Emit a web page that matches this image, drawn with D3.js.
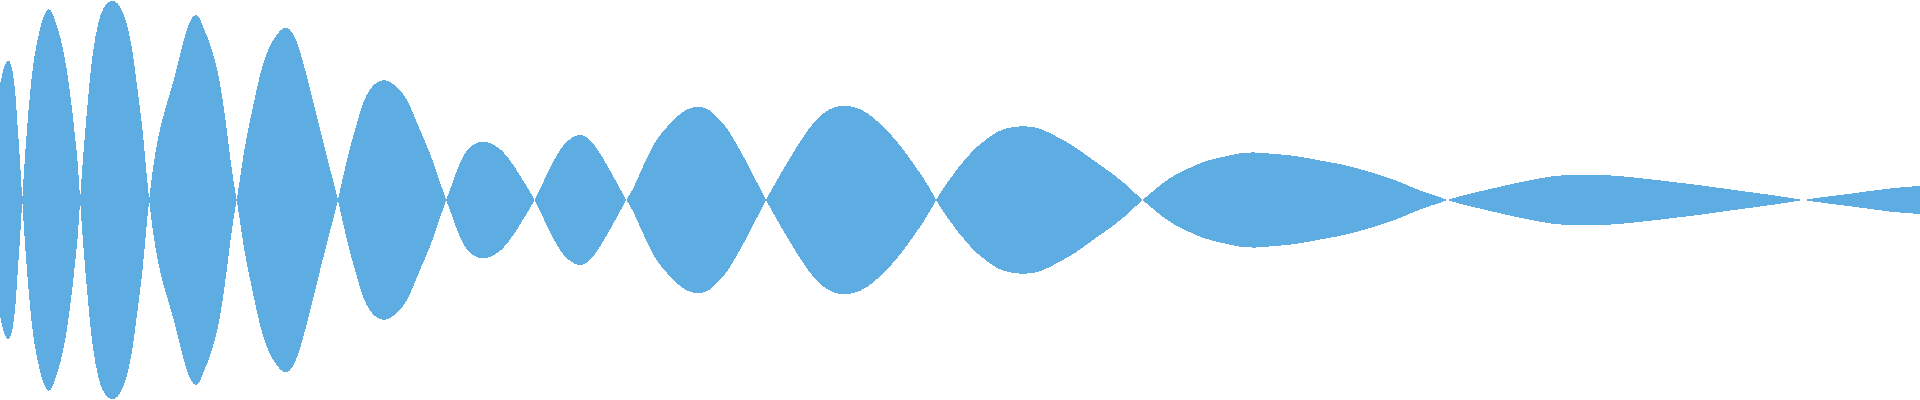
<!DOCTYPE html>
<html>
<head>
<meta charset="utf-8">
<script src="https://cdn.jsdelivr.net/npm/d3@7"></script>
<style>
  html, body { margin: 0; padding: 0; background: #fff; overflow: hidden; }
</style>
</head>
<body>
<div id="graph"></div>
<script>
///////////////////////////////////////////////////////////////////////////////
// Data ///////////////////////////////////////////////////////////////////////
///////////////////////////////////////////////////////////////////////////////

// Sample positions along the time axis (same units as the 1920 px width)
const sampleTimes = [
  0, 3, 5, 8, 10, 12, 14, 16, 18, 20, 22.3,
  24, 26, 28, 30, 33, 37, 40, 43, 46, 49, 52, 55, 60, 65, 68, 72, 75, 78, 80,
  83, 87, 90, 93, 98, 103, 108, 113, 118, 122, 127, 132, 135, 138, 142, 145, 149,
  153, 158, 163, 167, 172, 177, 182, 187, 192, 196, 200, 203, 208, 213, 218, 223, 228, 233, 237,
  243, 248, 253, 258, 263, 268, 273, 280, 286, 293, 300, 307, 313, 320, 327, 333, 338,
  343, 350, 357, 363, 370, 377, 384, 393, 403, 410, 417, 423, 430, 437, 446,
  450, 457, 463, 470, 477, 485, 493, 502, 510, 518, 527, 535,
  543, 550, 557, 563, 572, 580, 588, 597, 607, 617, 626,
  633, 640, 647, 653, 660, 667, 673, 680, 687, 697, 707, 713, 720, 727, 733, 740, 747, 753, 760, 766,
  773, 780, 787, 793, 803, 813, 823, 833, 846, 860, 873, 887, 900, 913, 927, 936,
  941, 947, 953, 960, 967, 973, 983, 993, 1003, 1013, 1023, 1037, 1050, 1063, 1077, 1090, 1103, 1117, 1130, 1142,
  1150, 1160, 1170, 1180, 1190, 1200, 1213, 1227, 1240, 1255, 1273, 1290, 1307, 1323, 1340, 1357, 1373, 1390, 1407, 1423, 1440, 1447,
  1457, 1473, 1507, 1540, 1560, 1585, 1610, 1640, 1673, 1707, 1740, 1773, 1803,
  1823, 1857, 1890, 1920,
];

// Signed signal value at each sample (lobes alternate sign)
const sampleValues = [
  115, 130, 135, 141, 138, 133, 120, 100, 67, 40, 0,
  -30, -57, -85, -105, -137, -157, -172, -182, -189, -192, -188, -180, -165, -142, -122, -93, -63, -37, 0,
  43, 90, 123, 150, 178, 192, 198, 200, 197, 190, 177, 153, 130, 107, 77, 43, 0,
  -33, -63, -83, -97, -113, -133, -153, -172, -183, -186, -182, -173, -162, -147, -128, -100, -60, -20, 0,
  43, 70, 93, 117, 137, 150, 160, 170, 174, 168, 150, 123, 100, 70, 43, 20, 0,
  -23, -53, -77, -98, -112, -118, -121, -117, -107, -95, -77, -63, -47, -27, 0,
  10, 30, 45, 53, 58, 59, 56, 50, 40, 28, 13, 0,
  -17, -33, -45, -55, -63, -66, -63, -52, -35, -17, 0,
  10, 27, 42, 55, 65, 73, 80, 86, 91, 94, 92, 87, 80, 72, 62, 50, 37, 25, 12, 0,
  -13, -25, -37, -47, -63, -77, -87, -93, -95, -92, -83, -70, -55, -37, -17, 0,
  8, 17, 25, 35, 42, 50, 58, 66, 71, 73, 74, 73, 67, 60, 52, 42, 33, 23, 12, 0,
  -6, -15, -22, -28, -32, -37, -41, -44, -47, -48, -46, -45, -42, -39, -36, -32, -27, -22, -15, -8, -3, 0,
  3, 7, 15, 22, 25, 25, 25, 22, 18, 14, 9, 5, 0,
  -3, -7, -12, -14,
];

const timeDomain = [0, 1920];
const valueDomain = [-200, 200];
const fillColor = "#5DADE2";

///////////////////////////////////////////////////////////////////////////////
// Drawing ////////////////////////////////////////////////////////////////////
///////////////////////////////////////////////////////////////////////////////

const width = 1920;
const height = 400;

/**
 * Draws the mirrored waveform: the area between the signal and its
 * negation, so every lobe shows above and below the centre line and the
 * zero crossings pinch to a point.
 */
function drawWaveform() {
  const data = sampleTimes.map((t, i) => ({ t, v: sampleValues[i] }));

  const x = d3.scaleLinear().domain(timeDomain).range([0, width]);
  const y = d3.scaleLinear().domain(valueDomain).range([height, 0]);

  const svg = d3
    .select("#graph")
    .append("svg")
    .attr("width", width)
    .attr("height", height);

  // B-spline smooths out small reading noise between neighbouring samples
  const area = d3
    .area()
    .x(d => x(d.t))
    .y0(d => y(-d.v))
    .y1(d => y(d.v))
    .curve(d3.curveBasis);

  svg
    .append("path")
    .datum(data)
    .attr("d", area)
    .style("fill", fillColor)
    .style("stroke", "none")
    .attr("shape-rendering", "crispEdges");
}

drawWaveform();
</script>
</body>
</html>
